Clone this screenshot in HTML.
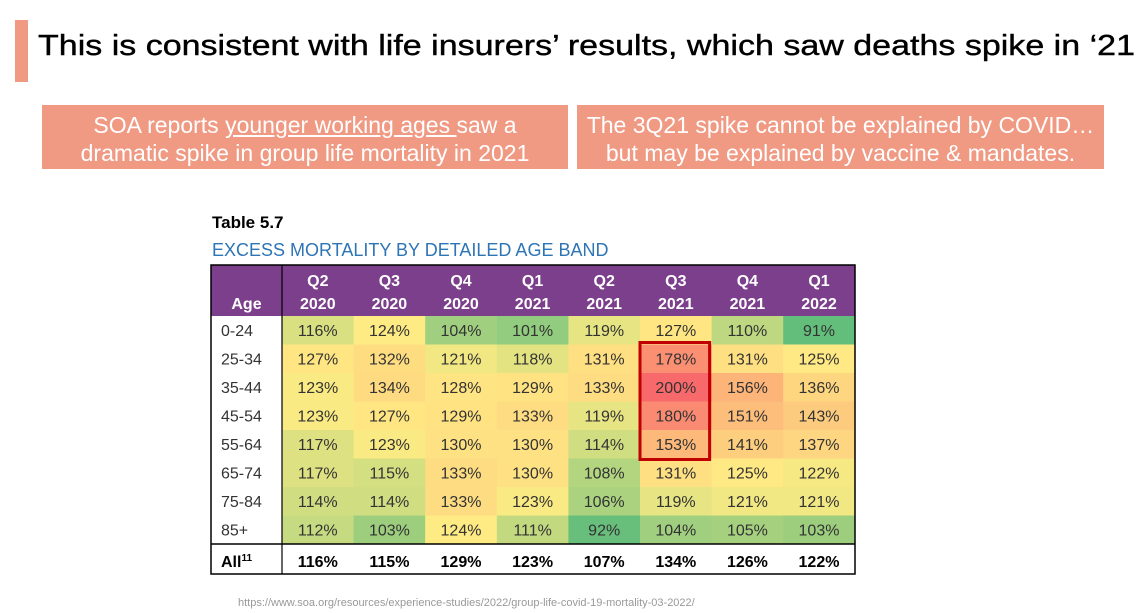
<!DOCTYPE html>
<html><head><meta charset="utf-8">
<style>
body{margin:0;width:1143px;height:613px;background:#fff;font-family:"Liberation Sans",sans-serif;position:relative;overflow:hidden}
.abs{position:absolute}
.box{position:absolute;top:105px;height:64px;background:#f09a84;color:#fff;font-size:23px;line-height:28px;text-align:center;padding-top:6px;box-sizing:border-box;white-space:nowrap}
#tbl{position:absolute;left:0;top:0}
</style></head><body>
<div class="abs" style="left:15px;top:20px;width:13px;height:62px;background:#f09a84"></div>
<svg class="abs" style="left:0;top:0" width="1143" height="90"><text x="38" y="55" font-size="29" textLength="1097" lengthAdjust="spacingAndGlyphs" fill="#000" stroke="#000" stroke-width="0.4" font-family="Liberation Sans, sans-serif">This is consistent with life insurers’ results, which saw deaths spike in ‘21</text></svg>
<div class="box" style="left:42px;width:526px">SOA reports <u>younger working ages </u>saw a<br>dramatic spike in group life mortality in 2021</div>
<div class="box" style="left:577px;width:527px">The 3Q21 spike cannot be explained by COVID…<br>but may be explained by vaccine &amp; mandates.</div>
<div class="abs" style="left:212px;top:213px;font-size:17px;font-weight:bold;color:#000">Table 5.7</div>
<div class="abs" style="left:212px;top:240px;font-size:18px;color:#2e75b6">EXCESS MORTALITY BY DETAILED AGE BAND</div>
<svg id="tbl" width="1143" height="613"></svg>
<div class="abs" style="left:238px;top:597px;font-size:11px;color:#999">https://www.soa.org/resources/experience-studies/2022/group-life-covid-19-mortality-03-2022/</div>
<script>
const quarters=["Q2","Q3","Q4","Q1","Q2","Q3","Q4","Q1"];
const years=["2020","2020","2020","2021","2021","2021","2021","2022"];
const ages=["0-24","25-34","35-44","45-54","55-64","65-74","75-84","85+"];
const r0=[116,124,104,101,119,127,110,91];
const r1=[127,132,121,118,131,178,131,125];
const r2=[123,134,128,129,133,200,156,136];
const r3=[123,127,129,133,119,180,151,143];
const r4=[117,123,130,130,114,153,141,137];
const r5=[117,115,133,130,108,131,125,122];
const r6=[114,114,133,123,106,119,121,121];
const r7=[112,103,124,111,92,104,105,103];
const allRow=[116,115,129,123,107,134,126,122];
const rows=[r0,r1,r2,r3,r4,r5,r6,r7];
const svg=document.getElementById('tbl');const NS='http://www.w3.org/2000/svg';
const X0=211,AW=71,CW=71.6,HY=265,HH=51,RH=28.5,TW=644;
const xc=i=>X0+AW+i*CW, yr=j=>HY+HH+j*RH;
function mk(t,a){const e=document.createElementNS(NS,t);for(const k in a)e.setAttribute(k,a[k]);svg.appendChild(e);return e;}
function lerp(a,b,t){return a.map((v,i)=>Math.round(v+(b[i]-v)*t));}
const G=[99,190,123],Y=[255,235,132],R=[248,105,107];
function col(v){const mn=91,md=124,mx=200;let c=v<=md?lerp(G,Y,(v-mn)/(md-mn)):lerp(Y,R,(v-md)/(mx-md));return `rgb(${c})`;}
let e=mk('rect',{x:X0,y:HY,width:TW,height:HH,fill:'#7b3f8c'});

e=mk('text',{x:X0+AW/2,y:HY+44,'text-anchor':'middle',fill:'#fff','font-size':16,'font-weight':'bold'});e.textContent='Age';

quarters.forEach((q,i)=>{
 let t=mk('text',{x:xc(i)+CW/2,y:HY+21,'text-anchor':'middle',fill:'#fff','font-size':16,'font-weight':'bold'});t.textContent=q;
 
 t=mk('text',{x:xc(i)+CW/2,y:HY+44,'text-anchor':'middle',fill:'#fff','font-size':16,'font-weight':'bold'});t.textContent=years[i];
 
});
rows.forEach((r,j)=>{
 let t=mk('text',{x:X0+10,y:yr(j)+20,fill:'#333','font-size':16});t.textContent=ages[j];
 
 r.forEach((v,i)=>{
  let c=mk('rect',{x:xc(i),y:yr(j),width:CW+0.5,height:RH+0.5,fill:col(v)});
  
  let s=mk('text',{x:xc(i)+CW/2,y:yr(j)+20,'text-anchor':'middle',fill:'#333','font-size':16});s.textContent=v+'%';
  
 });
});
const ay=yr(8);
allRow.forEach((v,i)=>{
 let s=mk('text',{x:xc(i)+CW/2,y:ay+23,'text-anchor':'middle',fill:'#000','font-size':16,'font-weight':'bold'});s.textContent=v+'%';
 
});
e=mk('text',{x:X0+10,y:ay+23,fill:'#000','font-size':16,'font-weight':'bold'});e.innerHTML='All<tspan font-size="10" dy="-6">11</tspan>';

mk('line',{x1:X0,y1:ay,x2:X0+TW,y2:ay,stroke:'#000','stroke-width':1.5});
mk('line',{x1:X0+AW,y1:HY,x2:X0+AW,y2:ay+30,stroke:'#000','stroke-width':1.2});
e=mk('rect',{x:X0,y:HY,width:TW,height:ay+30-HY,fill:'none',stroke:'#000','stroke-width':1.5});

e=mk('rect',{x:xc(5),y:yr(1)-2,width:CW-2,height:RH*4+3,fill:'none',stroke:'#c00000','stroke-width':3});

</script>
</body></html>
